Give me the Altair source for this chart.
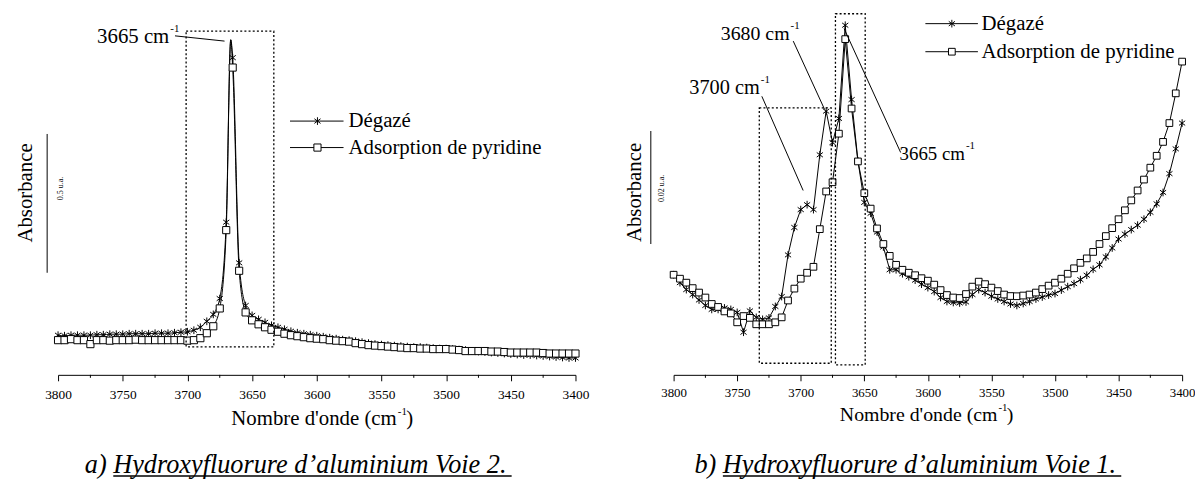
import altair as alt
import pandas as pd

# ---------------- data ----------------
WN = [3800, 3795, 3790, 3785, 3780, 3775, 3770, 3765, 3760, 3755,
      3750, 3745, 3740, 3735, 3730, 3725, 3720, 3715, 3710, 3705,
      3700, 3695, 3690, 3685, 3680, 3675, 3670, 3665, 3660, 3655,
      3650, 3645, 3640, 3635, 3630, 3625, 3620, 3615, 3610, 3605,
      3600, 3595, 3590, 3585, 3580, 3575, 3570, 3565, 3560, 3555,
      3550, 3545, 3540, 3535, 3530, 3525, 3520, 3515, 3510, 3505,
      3500, 3495, 3490, 3485, 3480, 3475, 3470, 3465, 3460, 3455,
      3450, 3445, 3440, 3435, 3430, 3425, 3420, 3415, 3410, 3405,
      3400]

# panel a) Voie 2 (relative absorbance, arbitrary offset)
A_DEG = [40, 39.5, 40, 40, 40, 40, 40.5, 40.5, 41, 41,
         41, 41.5, 41.5, 41.5, 41.5, 42, 42, 42, 42.5, 43,
         43.5, 45, 48, 54, 61, 77, 154, 320, 113, 70,
         60, 56, 53, 50, 48, 46, 44, 42.5, 41.5, 40.5,
         39.5, 38.5, 37.5, 36.5, 35.5, 35, 34, 33, 32, 31,
         30.5, 30, 29.5, 29, 28.5, 28, 28, 27.5, 27, 26.5,
         26.5, 26, 25.5, 25, 24, 23.5, 23, 22.5, 22, 21.5,
         21, 20.5, 20, 20, 19.5, 19, 18.5, 18, 17.5, 17,
         17]
A_ADS = [35, 35, 36, 35, 35, 31, 35, 35, 34.5, 35,
         35, 35, 35.5, 35, 35, 35, 35, 35, 35, 35,
         34.5, 35, 37, 42, 49, 67, 146, 310, 105, 63,
         55, 51, 48, 45.5, 43.5, 41.5, 40, 39, 38, 37,
         36.5, 36, 35, 34.5, 34, 33.5, 32, 31, 30, 29.5,
         29, 28.5, 28, 27.5, 27, 27, 26.5, 26.5, 26, 26,
         26, 25.5, 25, 24, 24, 24, 24, 23.5, 23.5, 23,
         22.5, 22.5, 22.5, 22.5, 22.5, 22, 21.5, 21.5, 21.5, 21.5,
         21.5]
A_APEX_WN = 3666.5
A_APEX_H = 338

# panel b) Voie 1
B_DEG = [101, 93, 86, 81, 75.5, 70, 66, 66, 67.5, 66,
         63, 43, 64.5, 58, 56, 57.5, 69, 79, 121, 148.7,
         166.7, 171.7, 166.7, 222, 266, 234.3, 258.7, 352.7, 277.7, 216,
         174, 163, 144, 129, 106, 106, 102, 99, 95.5, 91.5,
         88, 84, 78, 74, 73, 72.5, 73.5, 81, 86, 83,
         79.3, 76.5, 74, 71.5, 70, 72, 74, 76.5, 78.5, 80.5,
         82, 85.5, 89, 92, 96, 100.5, 106.5, 111, 119, 128,
         137, 142, 146.5, 151, 157, 164, 172.5, 184, 203, 228,
         254]
B_ADS = [101, 97, 93, 87.5, 83, 78, 71.5, 68.5, 64, 62,
         53, 59.3, 57.5, 51, 51, 51, 53, 58, 75, 87,
         97, 103, 109, 147, 185, 194.3, 243.3, 338.7, 268.7, 215.3,
         183.3, 167.7, 147.7, 132, 120, 111, 106, 103, 100.5, 97.5,
         95, 91, 85.5, 80.5, 78, 77.5, 81.5, 89, 94, 91.5,
         88, 84.5, 81, 79.5, 79.3, 80, 81, 83, 86.5, 90,
         93, 97, 102, 107.5, 113, 117.5, 124, 132, 140, 148,
         157, 166, 176, 186, 197, 209, 221, 235, 254, 284,
         316]

for arr in (A_DEG, A_ADS, B_DEG, B_ADS):
    assert len(arr) == len(WN), len(arr)

SERIES = ["Dégazé", "Adsorption de pyridine"]
MAJOR = [3800, 3750, 3700, 3650, 3600, 3550, 3500, 3450, 3400]
MINOR = [3775, 3725, 3675, 3625, 3575, 3525, 3475, 3425]

# dotted boxes (wn1, wn2, h1, h2)
A_BOX_W1, A_BOX_W2, A_BOX_H1, A_BOX_H2 = [3701], [3633.2], [28.3], [346.7]
B_BOX_W1 = [3732.6, 3672.7]
B_BOX_W2 = [3676, 3649.3]
B_BOX_H1 = [11.7, 10]
B_BOX_H2 = [269.3, 364.3]

# peak labels
A_LAB_TXT, A_LAB_W, A_LAB_H, A_LAB_FS = ["3665 cm"], [3714], [341], [21]
A_LEAD = dict(w1=[3709.6], h1=[342], w2=[3671.3], h2=[336.7])
B_LAB_TXT = ["3680 cm", "3700 cm", "3665 cm"]
B_LAB_W = [3708.8, 3732.2, 3570.8]
B_LAB_H = [344.3, 289.3, 223]
B_LAB_FS = [20, 20.5, 19]
B_LEAD = dict(w1=[3705.9, 3730.6, 3665.9], h1=[336.7, 281, 349.3],
              w2=[3681.2, 3698.1, 3621.4], h2=[267.7, 186, 224.3])

# scale bars (h from / to)
A_BAR = [103, 243]
B_BAR = [132, 246]

FONT = "Liberation Serif"
STAR = "M0,-1L0,1M-0.8,-0.6L0.8,0.6M-0.8,0.6L0.8,-0.6"
H = 366


def one(d):
    return pd.DataFrame({k: [v] for k, v in d.items()})


def panel(deg, ads, apex, box, lead, lab, bar, cfg, width):
    xs = alt.Scale(domain=[3800, 3400], nice=False, zero=False)
    ys = alt.Scale(domain=[0, H], nice=False, zero=False)
    n = len(WN)
    pts = pd.DataFrame({"wn": WN * 2, "h": deg + ads,
                        "serie": [SERIES[0]] * n + [SERIES[1]] * n})
    lines = pts.copy()
    if apex is not None:
        extra = pd.DataFrame({"wn": [apex[0], apex[0]], "h": [apex[1], apex[1]],
                              "serie": SERIES})
        lines = pd.concat([lines, extra], ignore_index=True)

    axis = alt.Axis(values=MAJOR, format="d", labelFlush=False, labelOverlap=False,
                    title=None, grid=False, domainColor="black", domainWidth=1,
                    tickColor="black", tickWidth=1, tickSize=6, labelFont=FONT,
                    labelFontSize=cfg["tick_fs"], labelColor="black",
                    labelPadding=cfg["tick_pad"])

    def X(field="wn"):
        return alt.X(f"{field}:Q", scale=xs, axis=axis)

    def Y(field="h"):
        return alt.Y(f"{field}:Q", scale=ys, axis=None)

    layers = []
    layers.append(alt.Chart(lines).mark_line(color="black", strokeWidth=1,
                                             interpolate=cfg["interp"]).encode(
        x=X(), y=Y(), detail="serie:N", order="wn:Q"))
    layers.append(alt.Chart(pts[pts.serie == SERIES[0]]).mark_point(
        shape=STAR, filled=False, color="black", strokeWidth=1, size=60, opacity=1
    ).encode(x=X(), y=Y()))
    layers.append(alt.Chart(pts[pts.serie == SERIES[1]]).mark_point(
        shape="square", filled=True, fill="white", stroke="black", strokeWidth=1,
        size=cfg["sq"], opacity=1).encode(x=X(), y=Y()))

    # minor ticks
    layers.append(alt.Chart(pd.DataFrame({"wn": MINOR})).mark_rule(
        color="black", strokeWidth=1).encode(
        x=X(), y=alt.value(H), y2=alt.value(H + 3)))

    # dotted boxes
    bdf = pd.DataFrame({"w1": box[0], "w2": box[1], "h1": box[2], "h2": box[3]})
    layers.append(alt.Chart(bdf).mark_rect(
        filled=False, stroke="black", strokeWidth=1.3, strokeDash=[2, 2.2]).encode(
        x=X("w1"), x2="w2:Q", y=Y("h1"), y2="h2:Q"))

    # leader lines
    ldf = pd.DataFrame(lead)
    layers.append(alt.Chart(ldf).mark_rule(color="black", strokeWidth=1).encode(
        x=X("w1"), x2="w2:Q", y=Y("h1"), y2="h2:Q"))

    # peak labels
    tdf = pd.DataFrame({"t": lab[0], "wn": lab[1], "h": lab[2], "fs": lab[3],
                        "sup": ["-1"] * len(lab[0])})
    layers.append(alt.Chart(tdf).mark_text(
        align="right", baseline="middle", font=FONT, color="black").encode(
        x=X(), y=Y(), text="t:N", size=alt.Size("fs:Q", scale=None, legend=None)))
    layers.append(alt.Chart(tdf).mark_text(
        align="left", baseline="middle", font=FONT, color="black", fontSize=11,
        dx=1, dy=-8).encode(x=X(), y=Y(), text="sup:N"))

    # legend
    lg = cfg["legend"]
    for i, name in enumerate(SERIES):
        yv = lg["rows"][i]
        d = one({"t": name})
        layers.append(alt.Chart(d).mark_rule(color="black", strokeWidth=1).encode(
            x=alt.value(lg["x0"]), x2=alt.value(lg["x1"]), y=alt.value(yv)))
        if i == 0:
            mk = alt.Chart(d).mark_point(shape=STAR, filled=False, color="black",
                                         strokeWidth=1, size=60, opacity=1)
        else:
            mk = alt.Chart(d).mark_point(shape="square", filled=True, fill="white",
                                         stroke="black", strokeWidth=1,
                                         size=cfg["sq"], opacity=1)
        layers.append(mk.encode(x=alt.value(lg["xm"]), y=alt.value(yv)))
        layers.append(alt.Chart(d).mark_text(
            align="left", baseline="middle", font=FONT, fontSize=21, color="black"
        ).encode(x=alt.value(lg["xt"]), y=alt.value(yv), text="t:N"))

    # scale bar + Absorbance
    sb = one({"a": bar[0], "b": bar[1], "t": "Absorbance", "u": cfg["ua"]})
    layers.append(alt.Chart(sb).mark_rule(color="black", strokeWidth=1).encode(
        x=alt.value(cfg["bar_x"]), y=Y("a"), y2="b:Q"))
    layers.append(alt.Chart(sb).mark_text(
        angle=270, align="center", baseline="middle", font=FONT, fontSize=21,
        color="black").encode(x=alt.value(cfg["abs_x"]), y=alt.value(cfg["abs_y"]),
                              text="t:N"))
    layers.append(alt.Chart(sb).mark_text(
        angle=270, align="center", baseline="middle", font=FONT, fontSize=8,
        color="black").encode(x=alt.value(cfg["ua_x"]), y=alt.value(cfg["ua_y"]),
                              text="u:N"))

    # x title with superscript
    xt = cfg["xtitle"]
    tt = one({"a": "Nombre d'onde (cm", "b": "-1", "c": ")"})
    layers.append(alt.Chart(tt).mark_text(
        align="right", baseline="middle", font=FONT, fontSize=xt["fs"], color="black"
    ).encode(x=alt.value(xt["x"]), y=alt.value(xt["y"]), text="a:N"))
    layers.append(alt.Chart(tt).mark_text(
        align="left", baseline="middle", font=FONT, fontSize=11, color="black"
    ).encode(x=alt.value(xt["x"] + 1), y=alt.value(xt["y"] - 7), text="b:N"))
    layers.append(alt.Chart(tt).mark_text(
        align="left", baseline="middle", font=FONT, fontSize=xt["fs"], color="black"
    ).encode(x=alt.value(xt["x"] + 9.5), y=alt.value(xt["y"]), text="c:N"))

    # caption, underlined
    cp = cfg["cap"]
    cdf = one({"t": cp["text"]})
    layers.append(alt.Chart(cdf).mark_text(
        align="left", baseline="middle", font=FONT, fontSize=26.5, fontStyle="italic",
        color="black").encode(x=alt.value(cp["x"]), y=alt.value(cp["y"]), text="t:N"))
    layers.append(alt.Chart(cdf).mark_rule(color="black", strokeWidth=1.6).encode(
        x=alt.value(cp["u0"]), x2=alt.value(cp["u1"]), y=alt.value(cp["uy"])))

    return alt.layer(*layers).properties(width=width, height=H)


left = panel(
    A_DEG, A_ADS, (A_APEX_WN, A_APEX_H),
    (A_BOX_W1, A_BOX_W2, A_BOX_H1, A_BOX_H2), A_LEAD,
    (A_LAB_TXT, A_LAB_W, A_LAB_H, A_LAB_FS), A_BAR,
    dict(interp="monotone", sq=52, tick_fs=13.5, tick_pad=7,
         legend=dict(x0=234, x1=288, xm=261.7, xt=293, rows=[110, 136.7]),
         ua="0.5 u.a.", bar_x=-11, abs_x=-32, abs_y=182.5, ua_x=3, ua_y=178,
         xtitle=dict(x=341.7, y=411, fs=21),
         cap=dict(text="a) Hydroxyfluorure d\u2019aluminium Voie 2.", x=27, y=457,
                  u0=55.7, u1=457.6, uy=468)),
    522)

right = panel(
    B_DEG, B_ADS, None,
    (B_BOX_W1, B_BOX_W2, B_BOX_H1, B_BOX_H2), B_LEAD,
    (B_LAB_TXT, B_LAB_W, B_LAB_H, B_LAB_FS), B_BAR,
    dict(interp="linear", sq=46, tick_fs=13, tick_pad=6,
         legend=dict(x0=254, x1=307, xm=280.7, xt=310.7, rows=[11.7, 40]),
         ua="0.02 u.a.", bar_x=-23, abs_x=-39, abs_y=182, ua_x=-12, ua_y=178,
         xtitle=dict(x=326.7, y=406.7, fs=20),
         cap=dict(text="b) Hydroxyfluorure d\u2019aluminium Voie 1.", x=21, y=457,
                  u0=49.7, u1=451.6, uy=468)),
    513)

chart = alt.hconcat(left, right, spacing=99, bounds="flush").properties(
    padding={"left": 7.5, "top": 2, "right": 0, "bottom": 0}
).configure_view(stroke=None)

chart.save("out.html", embed_options={"renderer": "svg", "actions": False})
